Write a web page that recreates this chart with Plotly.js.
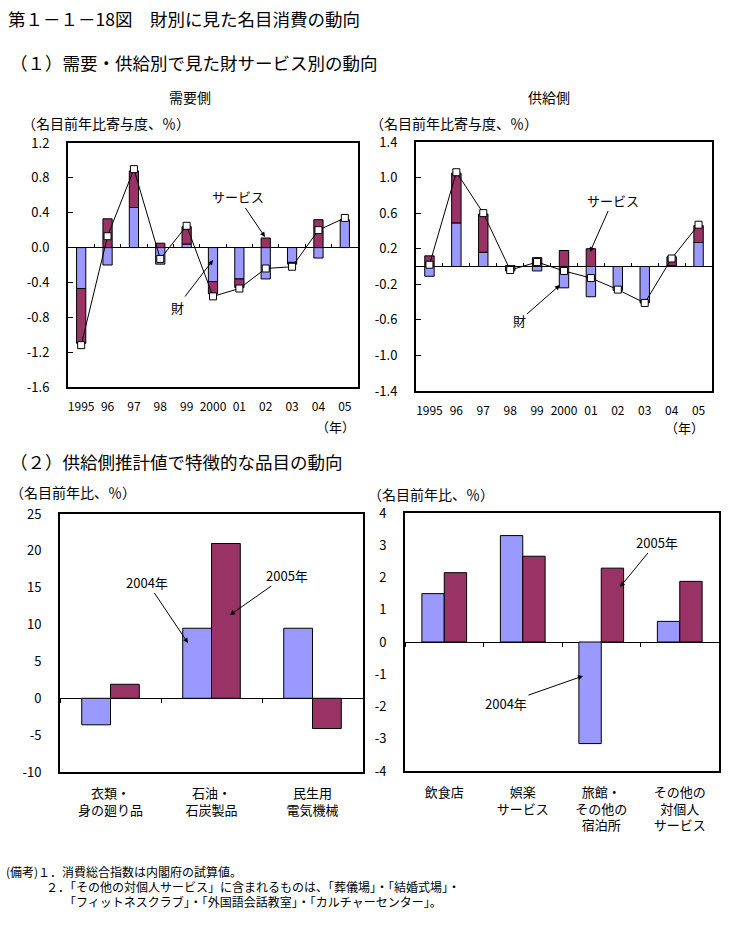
<!DOCTYPE html>
<html><head><meta charset="utf-8">
<script src="https://cdn.plot.ly/plotly-3.0.1.min.js"></script>
<style>html,body{margin:0;padding:0;background:#fff}#chart{width:734px;height:938px}</style>
</head><body><div id="chart"></div>
<script>
// ---- data ----
const years = ['1995','96','97','98','99','2000','01','02','03','04','05'];
const demandGoods    = [-0.47, -0.20, 0.46, -0.19, 0.04, -0.39, -0.36, -0.36, -0.17, -0.12, 0.31];
const demandServices = [-0.63,  0.33, 0.42,  0.05, 0.20, -0.14, -0.10,  0.11, -0.02,  0.32, 0.01];
const demandTotal    = [-1.12,  0.13, 0.90, -0.13, 0.25, -0.56, -0.47, -0.24, -0.22,  0.20, 0.34];
const supplyGoods    = [-0.11, 0.49, 0.16, -0.05, -0.05, -0.24, -0.34, -0.27, -0.39, 0.01, 0.27];
const supplyServices = [ 0.12, 0.56, 0.43,  0.01,  0.10,  0.18,  0.20,  0.00, -0.02, 0.10, 0.19];
const supplyTotal    = [ 0.02, 1.06, 0.60, -0.04,  0.05, -0.05, -0.13, -0.26, -0.41, 0.09, 0.47];

const goodsItems = ['衣類・<br>身の廻り品', '石油・<br>石炭製品', '民生用<br>電気機械'];
const goods2004 = [-3.6, 9.5, 9.5];
const goods2005 = [1.9, 21.0, -4.1];
const serviceItems = ['飲食店', '娯楽<br>サービス', '旅館・<br>その他の<br>宿泊所', 'その他の<br>対個人<br>サービス'];
const services2004 = [1.5, 3.3, -3.15, 0.64];
const services2005 = [2.15, 2.66, 2.29, 1.88];

const demandTickVals = [1.2, 0.8, 0.4, 0.0, -0.4, -0.8, -1.2, -1.6];
const demandTickText = ['1.2', '0.8', '0.4', '0.0', '-0.4', '-0.8', '-1.2', '-1.6'];
const supplyTickVals = [1.4, 1.0, 0.6, 0.2, -0.2, -0.6, -1.0, -1.4];
const supplyTickText = ['1.4', '1.0', '0.6', '0.2', '-0.2', '-0.6', '-1.0', '-1.4'];
const goodsTickVals = [25, 20, 15, 10, 5, 0, -5, -10];
const goodsTickText = ['25', '20', '15', '10', '5', '0', '-5', '-10'];
const servTickVals = [4, 3, 2, 1, 0, -1, -2, -3, -4];
const servTickText = ['4', '3', '2', '1', '0', '-1', '-2', '-3', '-4'];

// ---- layout helpers ----
const W = 734, H = 938;
const px = v => v / W, py = v => 1 - v / H;
const FONT = '"Noto Sans CJK JP", "Noto Sans", sans-serif';
const BLUE = '#9999FF', MAROON = '#993366';
const domTL = {x: [px(68), px(358)], y: [py(387), py(143)]};
const domTR = {x: [px(416), px(712)], y: [py(391), py(142)]};
const domBL = {x: [px(60), px(363)], y: [py(772), py(514)]};
const domBR = {x: [px(405), px(719)], y: [py(771), py(513)]};
const rTL = [-1.6, 1.2], rTR = [-1.4, 1.4], rBL = [-10, 25], rBR = [-4, 4];
const zeroPos = (d, r) => d.y[0] + (0 - r[0]) / (r[1] - r[0]) * (d.y[1] - d.y[0]);

const barLine = {color: '#000', width: 1};
const traces = [
  {type: 'bar', x: years, y: demandGoods, xaxis: 'x', yaxis: 'y', marker: {color: BLUE, line: barLine}, width: 0.35},
  {type: 'bar', x: years, y: demandServices, xaxis: 'x', yaxis: 'y', marker: {color: MAROON, line: barLine}, width: 0.35},
  {type: 'scatter', mode: 'lines+markers', x: years, y: demandTotal, xaxis: 'x5', yaxis: 'y',
   line: {color: '#000', width: 1}, marker: {symbol: 'square', size: 7, color: '#fff', line: {color: '#000', width: 1}}},
  {type: 'bar', x: years, y: supplyGoods, xaxis: 'x2', yaxis: 'y2', marker: {color: BLUE, line: barLine}, width: 0.35},
  {type: 'bar', x: years, y: supplyServices, xaxis: 'x2', yaxis: 'y2', marker: {color: MAROON, line: barLine}, width: 0.35},
  {type: 'scatter', mode: 'lines+markers', x: years, y: supplyTotal, xaxis: 'x6', yaxis: 'y2',
   line: {color: '#000', width: 1}, marker: {symbol: 'square', size: 7, color: '#fff', line: {color: '#000', width: 1}}},
  {type: 'bar', x: goodsItems, y: goods2004, xaxis: 'x3', yaxis: 'y3', marker: {color: BLUE, line: barLine}, width: 0.285, offset: -0.285},
  {type: 'bar', x: goodsItems, y: goods2005, xaxis: 'x7', yaxis: 'y3', marker: {color: MAROON, line: barLine}, width: 0.285, offset: 0},
  {type: 'bar', x: serviceItems, y: services2004, xaxis: 'x4', yaxis: 'y4', marker: {color: BLUE, line: barLine}, width: 0.285, offset: -0.285},
  {type: 'bar', x: serviceItems, y: services2005, xaxis: 'x8', yaxis: 'y4', marker: {color: MAROON, line: barLine}, width: 0.285, offset: 0}
];
traces.forEach(t => { t.showlegend = false; t.hoverinfo = 'skip'; });

function mainX(dom, anchor, cats, fs) {
  return {domain: dom.x, anchor: anchor, type: 'category', categoryarray: cats, range: [-0.5, cats.length - 0.5],
    showline: true, mirror: true, linewidth: 2, linecolor: '#000', ticks: '', showgrid: false, zeroline: false,
    tickfont: {family: FONT, size: fs, color: '#000'}, tickangle: 0, ticklabelstandoff: 8, fixedrange: true};
}
function overX(base, dom, r, cats, dir) {
  return {overlaying: base, anchor: 'free', position: zeroPos(dom, r), domain: dom.x, type: 'category',
    categoryarray: cats, range: [-0.5, cats.length - 0.5], tickson: 'boundaries', ticks: dir, ticklen: 4,
    tickcolor: '#000', tickwidth: 1, showticklabels: false, showline: false, showgrid: false, zeroline: false, fixedrange: true};
}
function mainY(dom, anchor, r, vals, text, ticks) {
  return {domain: dom.y, anchor: anchor, range: r, tickvals: vals, ticktext: text, ticks: ticks, ticklen: 5,
    tickcolor: '#000', showline: true, mirror: true, linewidth: 2, linecolor: '#000', showgrid: false,
    zeroline: true, zerolinecolor: '#000', zerolinewidth: 1, tickfont: {family: FONT, size: 13, color: '#000'},
    ticklabelstandoff: 14, fixedrange: true};
}

const af = s => ({family: FONT, size: s, color: '#000'});
function txt(x, y, text, size, xanchor) {
  return {xref: 'paper', yref: 'paper', x: px(x), y: py(y), text: text, showarrow: false,
    xanchor: xanchor || 'center', yanchor: 'middle', font: af(size)};
}
function arrow(hx, hy, tx, ty, text) {
  return {xref: 'paper', yref: 'paper', x: px(hx), y: py(hy), ax: tx - hx, ay: ty - hy, text: text,
    showarrow: true, arrowhead: 2, arrowsize: 1, arrowwidth: 1, arrowcolor: '#000', font: af(13)};
}

const annotations = [
  txt(6, 18, '第１－１－18図　財別に見た名目消費の動向', 17.5, 'left'),
  txt(8, 63, '（１）需要・供給別で見た財サービス別の動向', 17.5, 'left'),
  txt(190, 97, '需要側', 14),
  txt(549, 97, '供給側', 14),
  txt(20, 123, '（名目前年比寄与度、％）', 14, 'left'),
  txt(368, 123, '（名目前年比寄与度、％）', 14, 'left'),
  txt(335, 426, '（年）', 13),
  txt(684, 428, '（年）', 13),
  txt(8, 461, '（２）供給側推計値で特徴的な品目の動向', 17.5, 'left'),
  txt(8, 492, '（名目前年比、％）', 14, 'left'),
  txt(366, 494, '（名目前年比、％）', 14, 'left'),
  arrow(265, 237, 238, 197, 'サービス'),
  arrow(213, 260, 177, 307, '財'),
  arrow(590, 252, 613, 200, 'サービス'),
  arrow(560, 285, 519, 321, '財'),
  arrow(188, 643, 147, 582, '2004年'),
  arrow(230, 615, 287, 575, '2005年'),
  arrow(583, 676, 506, 703, '2004年'),
  arrow(620, 587, 657, 542, '2005年'),
  txt(4, 871, '(備考)１．消費総合指数は内閣府の試算値。', 12, 'left'),
  txt(44, 886, '２．「その他の対個人サービス」に含まれるものは、「葬儀場」・「結婚式場」・', 12, 'left'),
  txt(62, 901, '「フィットネスクラブ」・「外国語会話教室」・「カルチャーセンター」。', 12, 'left')
];

const layout = {
  width: W, height: H, margin: {l: 0, r: 0, t: 0, b: 0}, paper_bgcolor: '#fff', plot_bgcolor: '#fff',
  barmode: 'relative', showlegend: false, font: {family: FONT, color: '#000'},
  xaxis: mainX(domTL, 'y', years, 12), yaxis: mainY(domTL, 'x', rTL, demandTickVals, demandTickText, 'inside'),
  xaxis2: mainX(domTR, 'y2', years, 12), yaxis2: mainY(domTR, 'x2', rTR, supplyTickVals, supplyTickText, 'inside'),
  xaxis3: mainX(domBL, 'y3', goodsItems, 13), yaxis3: mainY(domBL, 'x3', rBL, goodsTickVals, goodsTickText, ''),
  xaxis4: mainX(domBR, 'y4', serviceItems, 13), yaxis4: mainY(domBR, 'x4', rBR, servTickVals, servTickText, ''),
  xaxis5: overX('x', domTL, rTL, years, 'inside'),
  xaxis6: overX('x2', domTR, rTR, years, 'inside'),
  xaxis7: overX('x3', domBL, rBL, goodsItems, 'outside'),
  xaxis8: overX('x4', domBR, rBR, serviceItems, 'outside'),
  annotations: annotations
};

Plotly.newPlot('chart', traces, layout, {staticPlot: true, displayModeBar: false});
</script></body></html>
